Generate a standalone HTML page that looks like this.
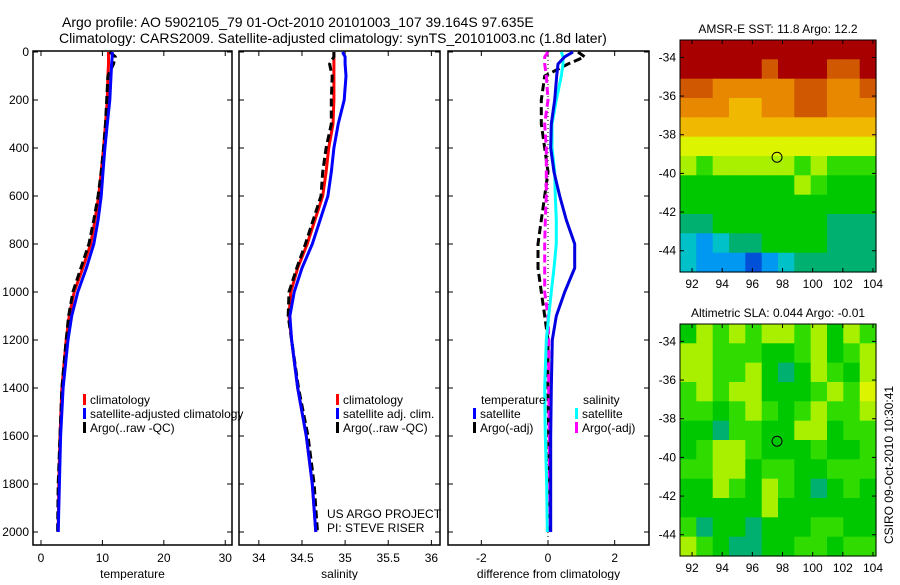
<!DOCTYPE html>
<html><head><meta charset="utf-8"><style>
body{margin:0;background:#fff;width:900px;height:580px;overflow:hidden}
svg text{font-family:"Liberation Sans",sans-serif;fill:#000}
</style></head><body>
<svg id="s" width="900" height="580" viewBox="0 0 900 580">
<text x="62" y="27" font-size="14" text-anchor="start">Argo profile: AO 5902105_79 01-Oct-2010 20101003_107 39.164S 97.635E</text>
<text x="59" y="43" font-size="14" text-anchor="start">Climatology: CARS2009. Satellite-adjusted climatology: synTS_20101003.nc (1.8d later)</text>
<text transform="translate(893,465) rotate(-90)" font-size="12" text-anchor="middle">CSIRO 09-Oct-2010 10:30:41</text>
</svg>
<script>
const depths=[0,20,50,100,200,300,400,500,600,700,800,900,1000,1100,1200,1400,1600,1800,2000];
const tClim=[11.0,11.0,11.0,10.9,10.8,10.5,10.2,9.8,9.4,8.8,8.1,6.8,5.4,4.6,4.1,3.4,3.1,2.9,2.8];
const tSat=[11.6,11.6,11.5,11.4,11.2,10.8,10.4,10.1,9.8,9.3,8.6,7.4,6.0,5.0,4.4,3.6,3.2,3.0,2.8];
const tArgo=[11.2,12.1,11.8,10.9,10.7,10.5,10.2,9.8,9.3,8.6,7.8,6.5,5.2,4.5,4.1,3.4,3.1,2.8,2.7];
const sClim=[34.87,34.87,34.87,34.87,34.87,34.86,34.81,34.78,34.74,34.65,34.56,34.45,34.37,34.35,34.38,34.45,34.55,34.62,34.66];
const sSat=[34.97,35.0,35.0,35.01,34.99,34.92,34.87,34.84,34.80,34.71,34.62,34.5,34.41,34.36,34.38,34.45,34.55,34.62,34.66];
const sArgo=[34.87,34.87,34.82,34.85,34.84,34.84,34.78,34.74,34.72,34.63,34.54,34.44,34.35,34.34,34.38,34.46,34.57,34.64,34.68];
const dTSat=[0.75,0.5,0.3,0.26,0.2,0.1,0.08,0.18,0.35,0.55,0.8,0.8,0.5,0.25,0.13,0.1,0.08,0.08,0.08];
const dSSat=[0.4,0.45,0.45,0.4,0.25,0.12,0.12,0.2,0.22,0.25,0.25,0.18,0.1,0.02,-0.05,-0.1,-0.08,-0.04,-0.02];
const dTArgo=[0.9,1.1,0.6,-0.1,-0.2,-0.2,-0.1,0,-0.1,-0.2,-0.3,-0.3,-0.2,-0.1,0,0,0.02,0.05,0.05];
const dSArgo=[0,-0.1,-0.1,-0.05,0,-0.1,-0.05,-0.05,-0.05,-0.08,-0.1,-0.1,-0.1,0,0.02,0.02,0.04,0.05,0.05];
const depthTicks=[0,200,400,600,800,1000,1200,1400,1600,1800,2000];
const tTicks=[0,10,20,30];
const sTicks=[34,34.5,35,35.5,36];
const dTicks=[-2,0,2];
const lonTicks=[92,94,96,98,100,102,104];
const latTicks=[-34,-36,-38,-40,-42,-44];
const sstGrid=[
[11,11,11,11,11,11,11,11,11,11,11,11],
[11,11,11,11,11,10,11,11,11,10,10,11],
[10,10,9,9,9,9,9,10,10,9,9,10],
[9,9,9,8,8,9,9,10,10,9,9,9],
[8,8,8,8,8,8,8,8,8,8,8,8],
[7,7,7,7,7,7,7,7,7,7,7,7],
[6,5,6,6,6,6,6,5,6,5,5,5],
[4,4,4,4,4,4,4,6,5,4,4,4],
[4,4,4,4,4,4,4,4,4,4,4,4],
[3,3,4,4,4,4,4,4,4,3,3,3],
[2,1,2,3,3,4,4,4,4,3,3,3],
[2,1,1,1,0,1,2,3,3,3,3,3]];
const slaGrid=[
[4,6,5,6,5,6,6,5,6,4,6,5],
[6,6,5,5,5,4,4,5,6,4,5,6],
[6,6,5,5,6,4,3,4,6,5,4,6],
[5,6,5,6,6,4,4,4,5,6,5,7],
[5,5,4,5,6,5,4,5,6,5,5,6],
[4,4,3,5,5,4,4,6,6,4,5,5],
[4,5,6,6,5,4,4,4,5,4,4,5],
[5,5,6,6,4,5,5,4,4,5,5,5],
[4,4,6,5,4,6,5,4,3,4,5,4],
[4,4,4,4,4,6,4,4,4,4,4,4],
[5,3,4,4,3,4,4,4,5,5,4,4],
[6,5,4,3,3,4,4,5,5,4,5,5]];
const pal=['#0050d8','#0098f0','#00c0c8','#00b070','#00c800','#30dc00','#a8f000','#dcf400','#f0b800','#e88800','#d05800','#a80000'];

const NS='http://www.w3.org/2000/svg';
const svg=document.getElementById('s');
function mk(tag,attrs,parent){const e=document.createElementNS(NS,tag);for(const k in attrs)e.setAttribute(k,attrs[k]);(parent||svg).appendChild(e);return e;}
function txt(x,y,s,size,anchor,parent){const t=mk('text',{x:x,y:y,'font-size':size,'text-anchor':anchor||'middle'},parent);t.textContent=s;return t;}
const y0=52,yPer=(532-52)/2000;
const yD=d=>y0+d*yPer;

function panel(name,x0,x1,xmin,xmax,ticks,label,showDepth){
  const g=mk('g',{});
  
  
  const fx=v=>x0+(v-xmin)/(xmax-xmin)*(x1-x0);
  mk('rect',{x:x0,y:51,width:x1-x0,height:494,fill:'none',stroke:'#000','stroke-width':1.5},g);
  ticks.forEach(v=>{const x=fx(v);mk('line',{x1:x,x2:x,y1:545,y2:540,stroke:'#000'},g);mk('line',{x1:x,x2:x,y1:51,y2:56,stroke:'#000'},g);
    const t=txt(x,562,String(v),12,'middle',g);});
  depthTicks.forEach(d=>{const y=yD(d);mk('line',{x1:x0,x2:x0+5,y1:y,y2:y,stroke:'#000'},g);mk('line',{x1:x1,x2:x1-5,y1:y,y2:y,stroke:'#000'},g);
    if(showDepth){const t=txt(x0-4,y+4,String(d),12,'end',g);}});
  const xl=txt((x0+x1)/2,578,label,12,'middle',g);
  
  
  return {g,fx};
}
function line(p,vals,color,w,dash,name){
  const pts=vals.map((v,i)=>p.fx(v).toFixed(1)+','+yD(depths[i]).toFixed(1)).join(' ');
  const l=mk('polyline',{points:pts,fill:'none',stroke:color,'stroke-width':w,'stroke-dasharray':dash||'none','stroke-linejoin':'round'},p.g);
  
  
}
function legend(p,x,y,items){
  items.forEach((it,i)=>{const yy=y+i*14;mk('rect',{x:x,y:yy-10,width:3,height:11,fill:it[1]},p.g);
    const t=txt(x+7,yy,it[0],12,'start',p.g);});
}
const p1=panel('temperature',33,232,-1.3,31.1,tTicks,'temperature',true);
line(p1,tClim,'#f00',3,null,'temp-climatology-line');
line(p1,tArgo,'#000',3,'8,4','temp-argo-line');
line(p1,tSat,'#0000ff',3,null,'temp-satellite-line');
legend(p1,83,404,[['climatology','#f00'],['satellite-adjusted climatology','#00f'],['Argo(..raw -QC)','#000']]);
const p2=panel('salinity',239,440,33.77,36.1,sTicks,'salinity',false);
line(p2,sClim,'#f00',3,null,'sal-climatology-line');
line(p2,sArgo,'#000',3,'8,4','sal-argo-line');
line(p2,sSat,'#0000ff',3,null,'sal-satellite-line');
legend(p2,336,404,[['climatology','#f00'],['satellite adj. clim.','#00f'],['Argo(..raw -QC)','#000']]);
txt(327,518,'US ARGO PROJECT',12,'start',p2.g);
txt(327,532,'PI: STEVE RISER',12,'start',p2.g);
const p3=panel('difference',448,649,-3.0,3.03,dTicks,'difference from climatology',false);
mk('line',{x1:p3.fx(0),x2:p3.fx(0),y1:52,y2:545,stroke:'#000','stroke-dasharray':'1,3'},p3.g);
line(p3,dTArgo,'#000',3,'8,4','diff-temp-argo-line');
line(p3,dSArgo,'#ff00ff',3,'8,4','diff-sal-argo-line');
line(p3,dSSat,'#00ffff',3,null,'diff-sal-satellite-line');
line(p3,dTSat,'#0000e0',3,null,'diff-temp-satellite-line');
txt(481,404,'temperature',12,'start',p3.g);
txt(583,404,'salinity',12,'start',p3.g);
legend(p3,473,418,[['satellite','#00f'],['Argo(-adj)','#000']]);
legend(p3,575,418,[['satellite','#0ff'],['Argo(-adj)','#f0f']]);

function map(name,top,grid,title){
  const g=mk('g',{});
  
  
  const L=680,R=876,B=top+232;
  const fx=lon=>L+(lon-91.2)/(104.2-91.2)*(R-L);
  const fy=lat=>top+(-33.1-lat)/12*(B-top);
  const rows=grid.length,cols=grid[0].length;
  grid.forEach((row,r)=>row.forEach((v,c)=>{
    const cell=mk('rect',{x:(L+c*(R-L)/cols).toFixed(1),y:(top+r*(B-top)/rows).toFixed(1),width:((R-L)/cols+0.6).toFixed(1),height:((B-top)/rows+0.6).toFixed(1),fill:pal[v]},g);
    
    
  }));
  mk('rect',{x:L,y:top,width:R-L,height:B-top,fill:'none',stroke:'#000','stroke-width':1},g);
  lonTicks.forEach(v=>{const x=fx(v);mk('line',{x1:x,x2:x,y1:B,y2:B-4,stroke:'#000'},g);mk('line',{x1:x,x2:x,y1:top,y2:top+4,stroke:'#000'},g);txt(x,B+16,String(v),12,'middle',g);});
  latTicks.forEach(v=>{const y=fy(v);mk('line',{x1:L,x2:L+4,y1:y,y2:y,stroke:'#000'},g);mk('line',{x1:R,x2:R-4,y1:y,y2:y,stroke:'#000'},g);txt(L-4,y+4,String(v),12,'end',g);});
  const m=mk('circle',{cx:fx(97.635),cy:fy(-39.164),r:5,fill:'none',stroke:'#000','stroke-width':1},g);
  
  
  const t=txt((L+R)/2,top-7,title,12,'middle',g);
  
  
}
map('sst-map',40,sstGrid,'AMSR-E SST: 11.8 Argo: 12.2');
map('sla-map',324,slaGrid,'Altimetric SLA: 0.044 Argo: -0.01');
</script>
</body></html>
